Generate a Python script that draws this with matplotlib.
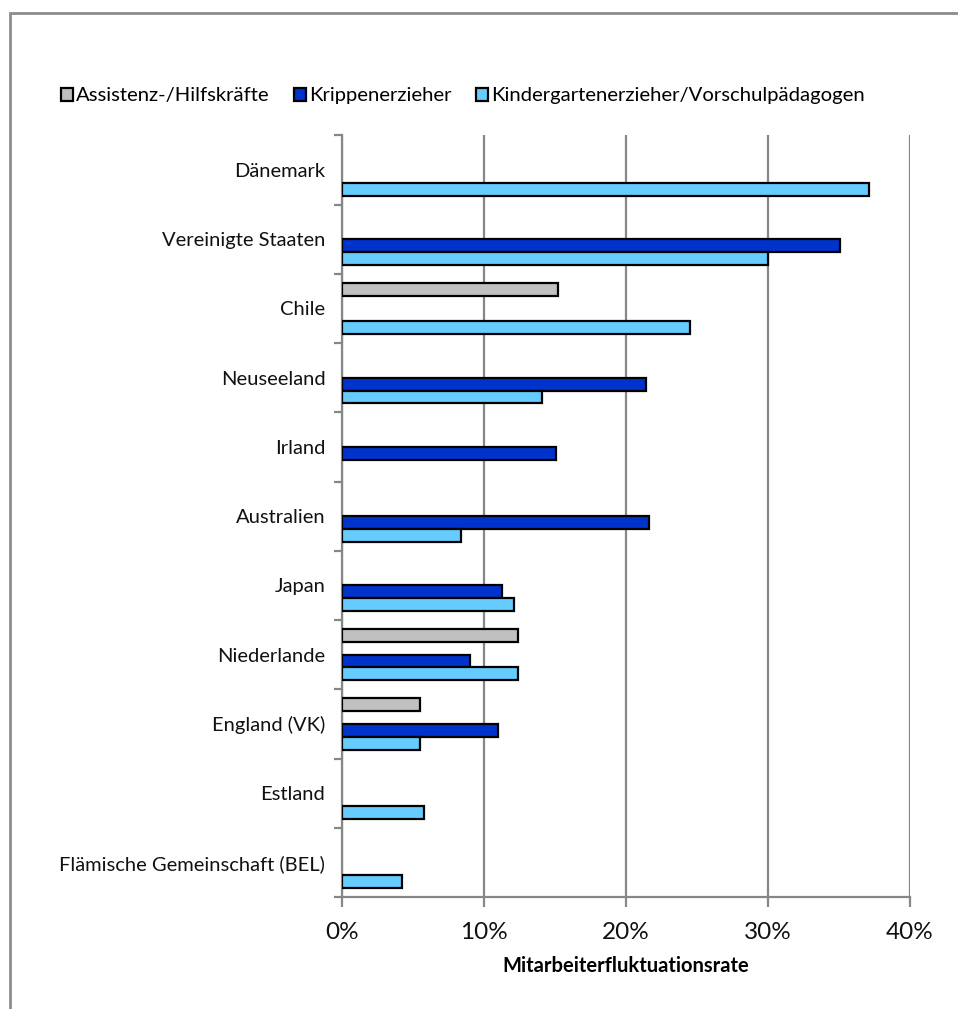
import numpy as np
import matplotlib
matplotlib.use("Agg")
import matplotlib.pyplot as plt
from matplotlib.patches import Rectangle, Patch
from matplotlib.ticker import FuncFormatter, FixedLocator

plt.rcParams['font.family'] = ['Lato', 'DejaVu Sans']

categories = ["Dänemark", "Vereinigte Staaten", "Chile", "Neuseeland", "Irland",
              "Australien", "Japan", "Niederlande", "England (VK)", "Estland",
              "Flämische Gemeinschaft (BEL)"]
series_names = ["Assistenz-/Hilfskräfte", "Krippenerzieher",
                "Kindergartenerzieher/Vorschulpädagogen"]
nan = np.nan
assistenz = [nan, nan, 15.2, nan, nan, nan, nan, 12.4, 5.5, nan, nan]
krippe = [nan, 35.1, nan, 21.4, 15.1, 21.6, 11.3, 9.0, 11.0, nan, nan]
kindergarten = [37.1, 30.0, 24.5, 14.1, nan, 8.4, 12.1, 12.4, 5.5, 5.8, 4.2]
x_ticks = [0, 10, 20, 30, 40]

colors = ["#C0C0C0", "#0033CC", "#66CCFF"]
W, H = 958, 1009
fig = plt.figure(figsize=(W / 100, H / 100), dpi=100)
ax = fig.add_axes([342 / W, 1 - 897 / H, (910 - 342) / W, (897 - 135.4) / H])

h = 0.185
offsets = [-1.5 * h, 0.5 * h, 1.5 * h]
y = np.arange(len(categories))
for vals, off, col in zip([assistenz, krippe, kindergarten], offsets, colors):
    v = np.array(vals, dtype=float)
    m = ~np.isnan(v)
    ax.barh(y[m] + off, v[m], height=h, color=col, edgecolor="black",
            linewidth=1.6, zorder=3)

ax.set_xlim(0, 40)
ax.set_ylim(len(categories) - 0.5, -0.5)
grid_c = "#878787"
ax.set_xticks(x_ticks)
ax.xaxis.set_major_formatter(FuncFormatter(lambda v, p: f"{int(v)}%"))
ax.grid(axis="x", color=grid_c, linewidth=1.6, zorder=0)
ax.set_yticks(y)
ax.set_yticklabels(categories)
ax.yaxis.set_minor_locator(FixedLocator(np.arange(-0.5, len(categories), 1.0)))
ax.tick_params(axis="y", which="major", length=0, pad=12, labelsize=14.5,
               labelcolor="#111111")
ax.tick_params(axis="y", which="minor", length=6, width=1.6, color=grid_c)
ax.tick_params(axis="x", which="major", length=7, width=1.6, color=grid_c,
               labelsize=17.5, pad=11, labelcolor="#111111")
for s in ["top", "right"]:
    ax.spines[s].set_visible(False)
for s in ["left", "bottom"]:
    ax.spines[s].set_color(grid_c)
    ax.spines[s].set_linewidth(1.6)
ax.set_xlabel("Mitarbeiterfluktuationsrate", fontsize=14.5, fontweight="bold",
              labelpad=9)

handles = [Patch(facecolor=c, edgecolor="black", linewidth=1.6) for c in colors]
fig.legend(handles, series_names, loc="center left",
           bbox_to_anchor=(61 / W, 1 - 96 / H), ncol=3, frameon=False,
           fontsize=14.6, handlelength=0.6, handleheight=0.6, handletextpad=0.15,
           columnspacing=1.2, borderaxespad=0, borderpad=0)

fig.patches.append(Rectangle((10 / W, -0.1), 1.2, 1.1 - 13 / H,
                             transform=fig.transFigure, fill=False,
                             edgecolor="#8c8c8c", linewidth=2, zorder=0))
fig.savefig("out.png", dpi=100)
